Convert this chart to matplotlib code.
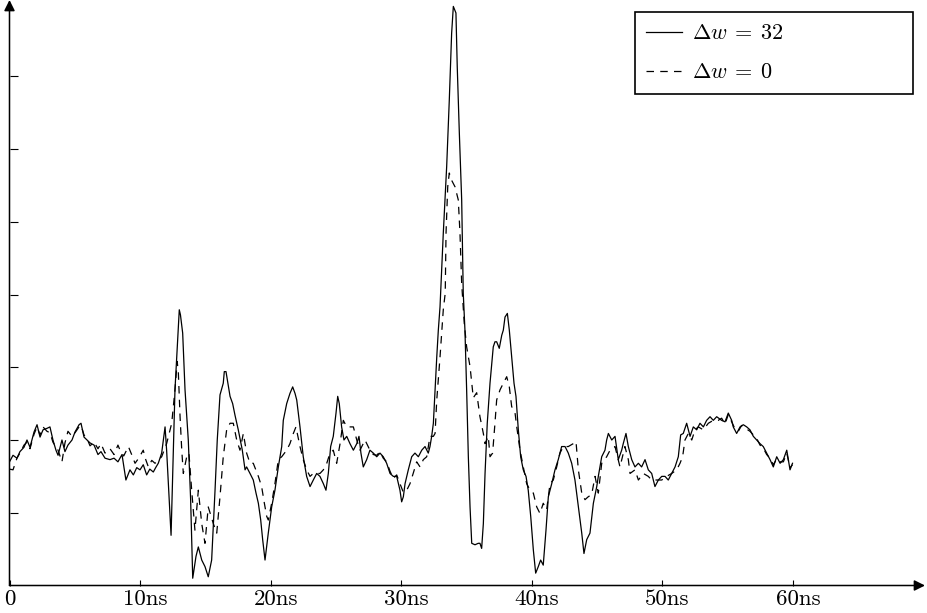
import matplotlib
matplotlib.use("Agg")
import matplotlib.pyplot as plt
from matplotlib.transforms import ScaledTranslation

plt.rcParams['mathtext.fontset'] = 'cm'

# ---------------- data ----------------
t_solid = [0.00, 0.27, 0.57, 0.80, 1.11, 1.34, 1.57, 1.88, 2.11, 2.34, 2.57, 2.87, 3.10, 3.33, 3.56, 3.72,
           4.02, 4.25, 4.48, 4.79, 5.02, 5.33, 5.48, 5.71, 5.94, 6.17, 6.48, 6.78, 7.01, 7.32, 7.70, 8.01,
           8.31, 8.62, 8.92, 9.23, 9.49, 9.75, 10.00, 10.25, 10.51, 10.75, 11.02, 11.20, 11.40, 11.66,
           11.92, 12.04, 12.38, 12.68, 13.01, 13.10, 13.27, 13.45, 13.70, 13.88, 14.04, 14.29, 14.47,
           14.73, 14.98, 15.23, 15.49, 15.75, 15.92, 16.13, 16.38, 16.46, 16.59, 16.90, 17.10, 17.28,
           17.53, 17.84, 18.05, 18.17, 18.43, 18.68, 18.89, 19.07, 19.25, 19.40, 19.58, 19.83, 20.09,
           20.34, 20.60, 20.86, 20.98, 21.24, 21.49, 21.70, 21.88, 22.01, 22.26, 22.51, 22.77, 23.03,
           23.28, 23.54, 23.79, 24.05, 24.25, 24.43, 24.61, 24.81, 25.02, 25.15, 25.27, 25.45, 25.63,
           25.84, 26.09, 26.35, 26.61, 26.78, 26.93, 27.11, 27.37, 27.62, 27.88, 28.14, 28.39, 28.64,
           28.90, 29.16, 29.41, 29.67, 29.92, 30.05, 30.18, 30.31, 30.56, 30.82, 31.07, 31.33, 31.59,
           31.84, 32.09, 32.22, 32.35, 32.48, 32.61, 32.74, 32.86, 32.99, 33.24, 33.50, 33.70, 33.88,
           34.01, 34.21, 34.31, 34.47, 34.65, 34.77, 34.90, 35.03, 35.16, 35.29, 35.42, 35.67, 35.92,
           36.05, 36.18, 36.31, 36.44, 36.61, 36.82, 37.07, 37.20, 37.33, 37.53, 37.72, 37.84, 37.97,
           38.15, 38.30, 38.48, 38.66, 38.81, 38.99, 39.17, 39.37, 39.58, 39.75, 39.94, 40.14, 40.32,
           40.52, 40.70, 40.90, 41.11, 41.29, 41.55, 41.80, 42.05, 42.31, 42.57, 42.82, 43.08, 43.33,
           43.59, 43.85, 44.02, 44.23, 44.48, 44.74, 45.00, 45.12, 45.38, 45.63, 45.76, 45.89, 46.15,
           46.40, 46.65, 46.91, 47.03, 47.24, 47.42, 47.68, 47.93, 48.19, 48.44, 48.70, 48.95, 49.21,
           49.46, 49.72, 49.98, 50.23, 50.48, 50.74, 51.00, 51.25, 51.43, 51.63, 51.89, 52.15, 52.40,
           52.66, 52.91, 53.17, 53.42, 53.68, 53.93, 54.19, 54.57, 54.83, 55.08, 55.34, 55.46, 55.72,
           55.98, 56.23, 56.49, 56.74, 57.00, 57.26, 57.51, 57.76, 58.02, 58.28, 58.53, 58.79, 59.05,
           59.30, 59.56, 59.81, 60.00]
v_solid = [1.70, 1.79, 1.75, 1.84, 1.90, 2.00, 1.90, 2.11, 2.21, 2.04, 2.14, 2.16, 2.18, 2.00, 1.86, 1.79,
           2.00, 1.84, 1.93, 2.00, 2.11, 2.21, 2.23, 2.04, 2.00, 1.96, 1.93, 1.80, 1.84, 1.75, 1.73, 1.75,
           1.70, 1.80, 1.45, 1.59, 1.52, 1.62, 1.59, 1.66, 1.52, 1.60, 1.56, 1.62, 1.68, 1.82,
           2.18, 1.86, 0.69, 2.69, 3.79, 3.72, 3.47, 2.69, 2.00, 1.18, 0.10, 0.40, 0.53,
           0.35, 0.26, 0.12, 0.35, 1.31, 2.00, 2.62, 2.78, 2.94, 2.94, 2.60, 2.50, 2.34,
           2.14, 1.86, 1.59, 1.63, 1.54, 1.45, 1.27, 1.13, 0.90, 0.63, 0.35, 0.72, 1.08,
           1.31, 1.63, 1.91, 2.27, 2.50, 2.64, 2.73, 2.64, 2.55, 2.18, 1.77, 1.50, 1.36,
           1.45, 1.54, 1.50, 1.40, 1.31, 1.54, 1.91, 2.05, 2.37, 2.60, 2.50, 2.18, 2.00,
           2.05, 1.95, 1.86, 1.95, 2.05, 1.82, 1.63, 1.73, 1.86, 1.82, 1.77, 1.82, 1.77,
           1.68, 1.54, 1.50, 1.50, 1.31, 1.15, 1.22, 1.40, 1.59, 1.77, 1.82, 1.77, 1.86,
           1.91, 1.82, 1.91, 2.05, 2.23, 2.69, 3.14, 3.51, 3.83, 4.84, 5.76, 6.67, 7.59,
           7.96, 7.87, 7.13, 6.22, 5.30, 4.02, 3.51, 2.69, 1.77, 1.08, 0.58, 0.56, 0.58,
           0.58, 0.51, 0.85, 1.54, 2.23, 2.78, 3.28, 3.35, 3.35, 3.26, 3.44, 3.51, 3.69,
           3.74, 3.51, 3.14, 2.78, 2.60, 2.14, 1.77, 1.59, 1.50, 1.31, 0.95, 0.49, 0.17,
           0.26, 0.35, 0.28, 0.76, 1.22, 1.40, 1.59, 1.73, 1.91, 1.91, 1.82, 1.68, 1.45,
           1.08, 0.72, 0.44, 0.63, 0.72, 1.13, 1.36, 1.50, 1.77, 1.86, 2.00, 2.09, 2.00,
           2.05, 1.73, 1.86, 1.95, 2.09, 1.91, 1.73, 1.63, 1.68, 1.63, 1.73, 1.59, 1.54,
           1.36, 1.45, 1.50, 1.50, 1.45, 1.54, 1.63, 1.77, 2.07, 2.09, 2.23, 2.05, 2.18,
           2.14, 2.23, 2.18, 2.27, 2.32, 2.27, 2.32, 2.27, 2.25, 2.37, 2.27, 2.18, 2.09,
           2.18, 2.21, 2.18, 2.14, 2.05, 2.00, 1.95, 1.91, 1.82, 1.73, 1.63, 1.77, 1.68,
           1.73, 1.86, 1.59, 1.68]

t_dash = [0.00, 0.27, 0.57, 0.80, 1.11, 1.34, 1.57, 1.88, 2.11, 2.34, 2.57, 2.87, 3.10, 3.33, 3.56, 3.72,
          4.02, 4.25, 4.48, 4.79, 5.02, 5.33, 5.48, 5.71, 5.94, 6.17, 6.48, 6.78, 7.01, 7.32, 7.70, 8.01,
          8.31, 8.47, 8.75, 9.11, 9.36, 9.62, 9.90, 10.25, 10.40, 10.64, 10.90, 11.15, 11.40, 11.66,
          12.04, 12.43, 12.68, 12.85, 12.94, 13.07, 13.20, 13.32, 13.58, 13.75, 13.96, 14.21, 14.47,
          14.73, 14.98, 15.23, 15.62, 15.88, 16.13, 16.38, 16.64, 16.90, 17.15, 17.41, 17.66, 17.92,
          18.17, 18.43, 18.68, 19.07, 19.32, 19.53, 19.71, 19.83, 20.09, 20.34, 20.60, 20.86, 21.24,
          21.49, 21.75, 21.95, 22.26, 22.51, 22.77, 23.03, 23.28, 23.54, 23.79, 24.05, 24.31, 24.56,
          24.81, 25.07, 25.33, 25.58, 25.84, 26.09, 26.35, 26.61, 26.86, 27.24, 27.62, 27.88, 28.14,
          28.39, 28.64, 28.90, 29.16, 29.41, 29.67, 29.92, 30.18, 30.44, 30.69, 30.95, 31.20, 31.46,
          31.71, 31.97, 32.22, 32.48, 32.61, 32.74, 32.99, 33.24, 33.39, 33.45, 33.58, 33.70, 33.88,
          34.14, 34.39, 34.52, 34.65, 34.85, 35.03, 35.29, 35.54, 35.80, 36.05, 36.31, 36.44, 36.69,
          36.82, 37.02, 37.20, 37.33, 37.59, 37.84, 38.10, 38.30, 38.48, 38.74, 38.87, 39.12, 39.37,
          39.63, 39.89, 40.14, 40.40, 40.65, 40.90, 41.16, 41.42, 41.67, 41.93, 42.18, 42.44, 42.82,
          43.20, 43.41, 43.59, 43.85, 44.10, 44.35, 44.61, 44.87, 45.12, 45.38, 45.76, 46.02, 46.40,
          46.78, 47.16, 47.42, 47.55, 47.93, 48.19, 48.57, 48.95, 49.21, 49.59, 49.98, 50.36, 50.74,
          51.13, 51.38, 51.58, 51.76, 52.02, 52.28, 52.53, 52.78, 53.17, 53.55, 53.93, 54.31, 54.57,
          54.83, 55.08, 55.34, 55.60, 55.85, 56.10, 56.40, 56.74, 57.00, 57.26, 57.51, 57.76, 58.02,
          58.28, 58.53, 58.79, 59.05, 59.30, 59.56, 59.81, 60.00]
v_dash = [1.60, 1.59, 1.75, 1.82, 1.93, 1.97, 1.88, 2.08, 2.18, 2.07, 2.18, 2.12, 2.10, 1.97, 1.90, 1.86,
          1.70, 1.96, 2.12, 2.05, 2.10, 2.18, 2.20, 2.07, 2.02, 1.92, 1.97, 1.88, 1.95, 1.82, 1.88, 1.80,
          1.93, 1.86, 1.78, 1.91, 1.80, 1.68, 1.75, 1.86, 1.75, 1.63, 1.72, 1.68, 1.72, 1.77,
          1.95, 2.23, 2.69, 3.08, 2.92, 2.32, 1.86, 1.54, 1.77, 1.82, 1.31, 0.76, 1.31,
          0.85, 0.58, 1.08, 0.85, 0.72, 1.22, 1.77, 2.14, 2.23, 2.23, 2.00, 1.86, 2.09,
          1.82, 1.68, 1.68, 1.50, 1.36, 1.13, 0.95, 0.90, 1.13, 1.40, 1.73, 1.77, 1.86,
          1.95, 2.09, 2.18, 1.91, 1.73, 1.59, 1.50, 1.54, 1.54, 1.54, 1.59, 1.68, 1.82,
          1.86, 1.68, 1.95, 2.27, 2.18, 2.18, 2.18, 2.00, 1.86, 2.00, 1.86, 1.80, 1.79,
          1.84, 1.75, 1.70, 1.57, 1.47, 1.52, 1.40, 1.28, 1.31, 1.40, 1.55, 1.70, 1.63,
          1.73, 1.77, 2.05, 2.05, 2.09, 2.55, 3.14, 3.79, 4.02, 4.84, 5.48, 5.67, 5.57,
          5.48, 5.30, 4.84, 4.15, 3.60, 3.28, 3.01, 2.58, 2.65, 2.32, 2.09, 1.95, 2.05,
          1.77, 1.82, 2.23, 2.55, 2.69, 2.78, 2.87, 2.73, 2.46, 2.37, 2.18, 1.86, 1.63,
          1.40, 1.31, 1.27, 1.08, 0.99, 1.13, 1.04, 1.40, 1.45, 1.63, 1.82, 1.91, 1.91,
          1.95, 1.98, 1.59, 1.27, 1.18, 1.22, 1.25, 1.50, 1.27, 1.68, 1.77, 1.86, 1.91,
          1.63, 1.91, 1.73, 1.54, 1.59, 1.45, 1.54, 1.50, 1.45, 1.45, 1.45, 1.50, 1.54,
          1.59, 1.68, 1.77, 2.00, 2.09, 2.00, 2.14, 2.18, 2.14, 2.23, 2.27, 2.27, 2.30,
          2.22, 2.35, 2.25, 2.15, 2.12, 2.20, 2.16, 2.12, 2.07, 2.02, 1.93, 1.89, 1.80,
          1.75, 1.66, 1.74, 1.70, 1.70, 1.82, 1.62, 1.66]

labels = [r'$\Delta w\:=\:32$', r'$\Delta w\:=\:0$']
x_ticks = [0, 10, 20, 30, 40, 50, 60]
x_tick_labels = ['0', '10ns', '20ns', '30ns', '40ns', '50ns', '60ns']
y_ticks = [1, 2, 3, 4, 5, 6, 7]

# ---------------- figure ----------------
W, H = 927, 613
fig = plt.figure(figsize=(W / 100, H / 100), dpi=100)
x0_px, x1_px = 9.5, 925.0
y0_px, y1_px = 585.5, 0.0          # from top
ax = fig.add_axes([x0_px / W, 1 - y0_px / H, (x1_px - x0_px) / W, (y0_px - y1_px) / H])
px_per_ns = 13.05
px_per_unit = 72.75
ax.set_xlim(0, (x1_px - x0_px) / px_per_ns)
ax.set_ylim(0, (y0_px - y1_px) / px_per_unit)

ax.plot(t_solid, v_solid, color='black', lw=0.9, label=labels[0])
ax.plot(t_dash, v_dash, color='black', lw=0.9, dashes=(6, 5), label=labels[1])

for s in ax.spines.values():
    s.set_visible(False)

arrow = dict(arrowstyle='-|>', color='black', lw=1.1, mutation_scale=16,
             shrinkA=0, shrinkB=0)
ax.annotate('', xy=(1, 0), xytext=(0, 0), xycoords='axes fraction',
            textcoords='axes fraction', arrowprops=arrow, annotation_clip=False)
ax.annotate('', xy=(0, 1), xytext=(0, 0), xycoords='axes fraction',
            textcoords='axes fraction', arrowprops=arrow, annotation_clip=False)

ax.set_xticks(x_ticks)
ax.set_xticklabels(x_tick_labels, fontfamily='cmr10', fontsize=16.5)
ax.set_yticks(y_ticks)
ax.set_yticklabels([])
ax.tick_params(axis='x', direction='in', length=4.5, width=0.8, pad=3)
ax.tick_params(axis='y', direction='in', length=5.5, width=0.8)
for lab, tv in zip(ax.get_xticklabels(), x_ticks):
    dx = 0.5 if tv == 0 else 5.5
    lab.set_transform(lab.get_transform() + ScaledTranslation(dx / 100, 0, fig.dpi_scale_trans))

leg = ax.legend(loc='upper left',
                bbox_to_anchor=(635 / W, 1 - 93 / H, (913 - 635) / W, (93 - 12) / H),
                bbox_transform=fig.transFigure, mode='expand', borderaxespad=0,
                fancybox=False, framealpha=1, edgecolor='black', fontsize=16,
                handlelength=1.6, handletextpad=0.45, borderpad=0.51, labelspacing=0.86)
leg.get_frame().set_linewidth(1.2)

fig.savefig('out.png', dpi=100)
